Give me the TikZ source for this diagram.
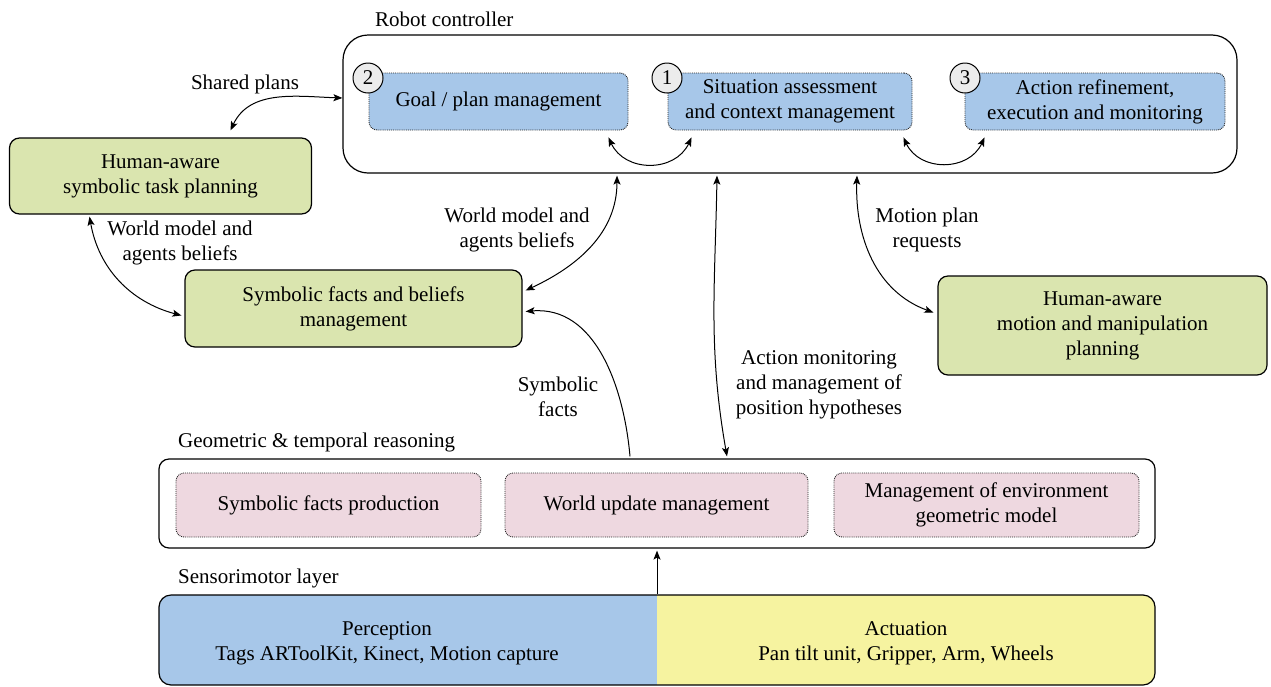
\documentclass[tikz,border=0pt]{standalone}
\usepackage{fontspec}
\setmainfont{Liberation Serif}
\usetikzlibrary{arrows.meta}
\definecolor{cblue}{RGB}{167,199,233}
\definecolor{cgreen}{RGB}{218,229,175}
\definecolor{cpink}{RGB}{238,216,224}
\definecolor{cyellow}{RGB}{246,243,160}
\definecolor{cgray}{RGB}{236,236,236}
\tikzset{
  txt/.style={font=\fontsize{21}{25}\selectfont, inner sep=0pt, align=center},
  outerbox/.style={draw, line width=1.2pt, rounded corners=#1, inner sep=0pt},
  innerblue/.style={txt, draw=black!85, densely dotted, line width=0.9pt, fill=cblue, rounded corners=8pt},
  innerpink/.style={txt, draw=black!85, densely dotted, line width=0.9pt, fill=cpink, rounded corners=8pt},
  greenbox/.style={txt, draw, line width=1.2pt, fill=cgreen, rounded corners=10pt},
  numcirc/.style={txt, circle, draw, line width=1pt, fill=cgray, minimum size=30pt},
  conn/.style={line width=1pt},
}
\begin{document}
\begin{tikzpicture}[x=1pt,y=-1pt, >={Stealth[length=9pt,width=7pt,inset=2pt]}]
\useasboundingbox (0,0) rectangle (1271,686);

% Robot controller
\node[outerbox=25pt, minimum width=894pt, minimum height=138pt] (rc) at (790,104) {};
\node[txt, anchor=west] (rclab) at (375,19) {Robot controller};
\node[innerblue, minimum width=259pt, minimum height=57pt] (goal) at (498.5,101.5) {Goal / plan management};
\node[innerblue, minimum width=244pt, minimum height=57pt] (sit) at (790,101.5) {Situation assessment\\and context management};
\node[innerblue, minimum width=260pt, minimum height=57pt] (act) at (1095,101.5) {Action refinement,\\execution and monitoring};
\node[numcirc] (n2) at (368,78) {2};
\node[numcirc] (n1) at (667,78) {1};
\node[numcirc] (n3) at (965,78) {3};

% Green boxes
\node[greenbox, minimum width=302pt, minimum height=76pt] (hat) at (160.5,176) {Human-aware\\symbolic task planning};
\node[greenbox, minimum width=337pt, minimum height=77pt] (sf) at (353.5,308.5) {Symbolic facts and beliefs\\management};
\node[greenbox, minimum width=329pt, minimum height=99pt] (ham) at (1102.5,325.5) {Human-aware\\motion and manipulation\\planning};

% Geometric & temporal reasoning
\node[outerbox=10pt, minimum width=996pt, minimum height=89pt] (geo) at (657,503.5) {};
\node[txt, anchor=west] (geolab) at (178,442) {Geometric \& temporal reasoning};
\node[innerpink, minimum width=305pt, minimum height=64pt] (sfp) at (328.5,505) {Symbolic facts production};
\node[innerpink, minimum width=303pt, minimum height=64pt] (wum) at (656.5,505) {World update management};
\node[innerpink, minimum width=305pt, minimum height=64pt] (meg) at (986.5,505) {Management of environment\\geometric model};

% Sensorimotor layer
\node[txt, anchor=west] (smlab) at (178,578) {Sensorimotor layer};
\begin{scope}
\clip[rounded corners=12pt] (159,595) rectangle (1155,685);
\fill[cblue] (159,595) rectangle (657,685);
\fill[cyellow] (657,595) rectangle (1155,685);
\end{scope}
\node[outerbox=12pt, minimum width=996pt, minimum height=90pt] (sens) at (657,640) {};
\node[txt] (perc) at (387,643) {Perception\\Tags ARToolKit, Kinect, Motion capture};
\node[txt] (actu) at (906,643) {Actuation\\Pan tilt unit, Gripper, Arm, Wheels};

% Connector labels
\node[txt] (lsp) at (245,84) {Shared plans};
\node[txt] (lwm1) at (180,243) {World model and\\agents beliefs};
\node[txt] (lwm2) at (517,230) {World model and\\agents beliefs};
\node[txt] (lsym) at (558,397) {Symbolic\\facts};
\node[txt] (lam) at (819,385) {Action monitoring\\and management of\\position hypotheses};
\node[txt] (lmp) at (927,230) {Motion plan\\requests};

% Connectors
\draw[conn,<->] ([yshift=6pt]rc.west) to[out=178,in=65] ([xshift=70pt,yshift=7pt]hat.north);
\draw[conn,<->] ([xshift=-20pt,yshift=-7pt]goal.south east) to[out=-65,in=-115,looseness=1.2] ([xshift=24pt,yshift=-7pt]sit.south west);
\draw[conn,<->] ([xshift=-9pt,yshift=-7pt]sit.south east) to[out=-65,in=-115,looseness=1.2] ([xshift=20pt,yshift=-7pt]act.south west);
\draw[conn,<->] ([xshift=-71pt,yshift=-2pt]hat.south) to[out=-80,in=165] ([xshift=-3pt,yshift=-7pt]sf.west);
\draw[conn,<->] ([xshift=-173pt,yshift=-2pt]rc.south) to[out=-90,in=25] ([xshift=3pt,yshift=18pt]sf.east);
\draw[conn,->] ([xshift=-27pt,yshift=2pt]geo.north) to[out=95,in=5] ([xshift=3pt,yshift=-3pt]sf.east);
\draw[conn,<->] ([xshift=-73pt,yshift=-2pt]rc.south) to[out=-91,in=100] ([xshift=70pt,yshift=2pt]geo.north);
\draw[conn,<->] ([xshift=67pt,yshift=-2pt]rc.south) to[out=-92,in=160] ([xshift=-4pt,yshift=13pt]ham.west);
\draw[conn,->] (sens.north) -- ([yshift=-2pt]geo.south);
\end{tikzpicture}
\end{document}
